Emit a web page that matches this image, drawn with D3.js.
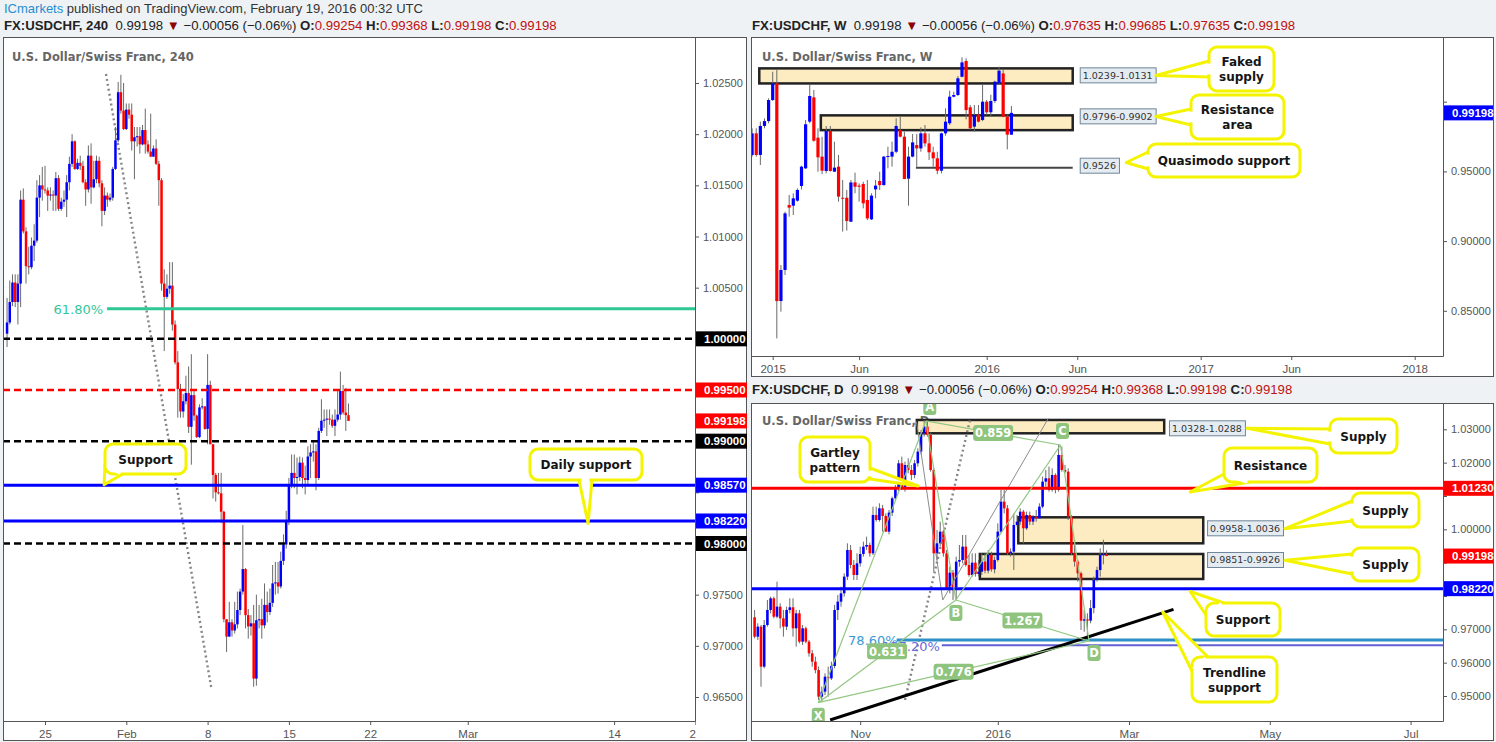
<!DOCTYPE html>
<html><head><meta charset="utf-8">
<script src="https://cdn.jsdelivr.net/npm/d3@7"></script>
<style>body{margin:0;background:#eef2f5;}svg{display:block}text{white-space:pre}</style>
</head><body><svg id="c" width="1496" height="742"></svg>
<script>
// ---------------- 4H data (bar index relative to Mon Jan 25 00:00, 6 bars per trading day) ----------------
const h4Start = -14;
const h4Open = [1.0005,1.0016,1.0036,1.0055,1.0036,1.0054,1.0136,1.0105,1.0071,1.0070,1.0091,1.0096,1.0138,1.0150,1.0146,1.0145,1.0140,1.0141,1.0140,1.0157,1.0127,1.0134,1.0136,1.0153,1.0171,1.0193,1.0166,1.0172,1.0169,1.0153,1.0146,1.0179,1.0148,1.0156,1.0174,1.0152,1.0125,1.0140,1.0136,1.0138,1.0166,1.0194,1.0241,1.0223,1.0205,1.0224,1.0219,1.0193,1.0197,1.0198,1.0190,1.0204,1.0190,1.0183,1.0178,1.0186,1.0171,1.0155,1.0054,1.0041,1.0049,1.0052,1.0014,0.9977,0.9951,0.9929,0.9939,0.9947,0.9914,0.9945,0.9925,0.9904,0.9933,0.9934,0.9912,0.9955,0.9897,0.9867,0.9850,0.9849,0.9831,0.9726,0.9709,0.9723,0.9715,0.9721,0.9735,0.9753,0.9775,0.9730,0.9719,0.9722,0.9668,0.9725,0.9726,0.9720,0.9740,0.9733,0.9742,0.9761,0.9762,0.9758,0.9783,0.9799,0.9821,0.9857,0.9869,0.9864,0.9865,0.9879,0.9864,0.9862,0.9885,0.9889,0.9890,0.9864,0.9910,0.9920,0.9921,0.9922,0.9921,0.9915,0.9921,0.9926,0.9949,0.9928,0.99254];
const h4High = [1.0040,1.0057,1.0063,1.0063,1.0063,1.0145,1.0147,1.0109,1.0090,1.0099,1.0112,1.0155,1.0160,1.0168,1.0169,1.0148,1.0148,1.0145,1.0163,1.0160,1.0138,1.0145,1.0160,1.0178,1.0200,1.0194,1.0176,1.0179,1.0174,1.0156,1.0189,1.0191,1.0174,1.0179,1.0178,1.0155,1.0148,1.0143,1.0142,1.0168,1.0207,1.0251,1.0258,1.0250,1.0230,1.0230,1.0230,1.0207,1.0207,1.0207,1.0209,1.0225,1.0194,1.0220,1.0189,1.0195,1.0174,1.0157,1.0068,1.0063,1.0075,1.0075,1.0018,0.9988,0.9956,0.9946,0.9964,0.9973,0.9985,0.9949,0.9926,0.9936,0.9942,0.9934,0.9985,0.9959,0.9897,0.9869,0.9869,0.9869,0.9832,0.9726,0.9743,0.9726,0.9743,0.9753,0.9756,0.9818,0.9776,0.9736,0.9730,0.9740,0.9750,0.9740,0.9746,0.9761,0.9753,0.9756,0.9779,0.9782,0.9782,0.9792,0.9809,0.9832,0.9864,0.9887,0.9887,0.9884,0.9885,0.9884,0.9876,0.9895,0.9897,0.9900,0.9897,0.9913,0.9941,0.9931,0.9931,0.9931,0.9926,0.9931,0.9949,0.9968,0.9955,0.9952,0.99368];
const h4Low = [0.9992,1.0014,1.0032,1.0031,1.0014,1.0031,1.0103,1.0054,1.0063,1.0068,1.0076,1.0094,1.0119,1.0135,1.0142,1.0125,1.0135,1.0125,1.0125,1.0125,1.0125,1.0129,1.0119,1.0145,1.0168,1.0165,1.0165,1.0165,1.0152,1.0130,1.0143,1.0132,1.0147,1.0152,1.0148,1.0110,1.0121,1.0129,1.0134,1.0135,1.0165,1.0192,1.0220,1.0204,1.0204,1.0215,1.0184,1.0156,1.0188,1.0181,1.0189,1.0181,1.0181,1.0178,1.0178,1.0170,1.0130,1.0047,0.9988,1.0039,1.0044,1.0008,0.9975,0.9923,0.9923,0.9923,0.9936,0.9908,0.9877,0.9920,0.9903,0.9903,0.9931,0.9911,0.9897,0.9897,0.9844,0.9841,0.9848,0.9820,0.9723,0.9694,0.9709,0.9709,0.9712,0.9717,0.9730,0.9750,0.9717,0.9707,0.9710,0.9660,0.9661,0.9717,0.9707,0.9717,0.9723,0.9730,0.9738,0.9750,0.9751,0.9756,0.9779,0.9795,0.9818,0.9854,0.9854,0.9848,0.9861,0.9854,0.9848,0.9858,0.9864,0.9880,0.9852,0.9862,0.9908,0.9913,0.9905,0.9916,0.9913,0.9905,0.9919,0.9921,0.9926,0.9910,0.99198];
const h4Close = [1.0016,1.0036,1.0055,1.0036,1.0054,1.0136,1.0105,1.0071,1.0070,1.0091,1.0096,1.0138,1.0150,1.0146,1.0145,1.0140,1.0141,1.0140,1.0157,1.0127,1.0134,1.0136,1.0153,1.0171,1.0193,1.0166,1.0172,1.0169,1.0153,1.0146,1.0179,1.0148,1.0156,1.0174,1.0152,1.0125,1.0140,1.0136,1.0138,1.0166,1.0194,1.0241,1.0223,1.0205,1.0224,1.0219,1.0193,1.0197,1.0198,1.0190,1.0204,1.0190,1.0183,1.0178,1.0186,1.0171,1.0155,1.0054,1.0041,1.0049,1.0052,1.0014,0.9977,0.9951,0.9929,0.9939,0.9947,0.9914,0.9945,0.9925,0.9904,0.9933,0.9934,0.9912,0.9955,0.9897,0.9867,0.9850,0.9849,0.9831,0.9726,0.9709,0.9723,0.9715,0.9721,0.9735,0.9753,0.9775,0.9730,0.9719,0.9722,0.9668,0.9725,0.9726,0.9720,0.9740,0.9733,0.9742,0.9761,0.9762,0.9758,0.9783,0.9799,0.9821,0.9857,0.9869,0.9864,0.9865,0.9879,0.9864,0.9862,0.9885,0.9889,0.9890,0.9864,0.9910,0.9920,0.9921,0.9922,0.9921,0.9915,0.9921,0.9926,0.9949,0.9928,0.99254,0.99198];
const h4XTicks = [0,30,60,90,120,156,210,240];
const h4XLabels = ['25','Feb','8','15','22','Mar','14','21'];
const h4YTicks = [1.025,1.020,1.015,1.010,1.005,1.000,0.995,0.990,0.985,0.980,0.975,0.970,0.965];
const h4Dashed = [1.0000,0.9950,0.9900,0.9800];
const h4DashedColors = ['#000','#f00','#000','#000'];
const h4Solid = [0.9857,0.9822];
const h4Tags = [1.0000,0.9950,0.99198,0.9900,0.9857,0.9822,0.9800];
const h4TagColors = ['#000','#f00','#f00','#000','#00f','#00f','#000'];
const h4Fib = [22.9,1.00294];        // start bar, price of 61.8%
const h4Diag = [[22.5,1.02588],[61.3,0.96598]];

// ---------------- Weekly data (week index relative to 5 Jan 2015) ----------------
const wkStart = -5;
const wkOpen = [0.9618,0.9773,0.9618,0.9826,0.9861,1.0012,1.0132,0.8570,0.8793,0.9259,0.9254,0.9290,0.9395,0.9522,0.9857,1.0031,0.9742,0.9606,0.9503,0.9790,0.9498,0.9534,0.9311,0.9311,0.9139,0.9421,0.9398,0.9410,0.9295,0.9156,0.9371,0.9431,0.9402,0.9606,0.9606,0.9641,0.9797,0.9749,0.9448,0.9606,0.9689,0.9665,0.9773,0.9701,0.9637,0.9594,0.9505,0.9773,0.9845,1.0036,1.0048,1.0179,1.0292,0.9960,0.9821,0.9909,0.9869,1.0000,0.9924,1.0005,1.0132,1.0203,0.9893,0.97635];
const wkHigh = [0.9809,0.9809,0.9857,0.9881,1.0024,1.0215,1.0227,0.8828,0.9211,0.9331,0.9343,0.9378,0.9540,0.9869,1.0120,1.0084,0.9809,0.9749,0.9826,0.9826,0.9713,0.9618,0.9438,0.9367,0.9438,0.9491,0.9414,0.9426,0.9438,0.9343,0.9438,0.9498,0.9610,0.9677,0.9713,0.9881,0.9893,0.9785,0.9677,0.9768,0.9768,0.9816,0.9833,0.9773,0.9677,0.9641,0.9778,0.9952,1.0079,1.0072,1.0184,1.0318,1.0311,0.9976,0.9976,0.9976,1.0120,1.0012,1.0050,1.0150,1.0251,1.0227,0.9905,0.99685];
const wkLow = [0.9606,0.9606,0.9546,0.9809,0.9845,1.0005,0.8302,0.8494,0.8757,0.9175,0.9187,0.9283,0.9371,0.9517,0.9845,0.9713,0.9498,0.9481,0.9486,0.9498,0.9498,0.9283,0.9068,0.9075,0.9139,0.9343,0.9283,0.9235,0.9151,0.9151,0.9307,0.9367,0.9398,0.9522,0.9534,0.9630,0.9744,0.9445,0.9254,0.9601,0.9534,0.9641,0.9677,0.9582,0.9534,0.9481,0.9486,0.9756,0.9833,1.0031,1.0041,1.0175,0.9873,0.9800,0.9785,0.9852,0.9860,0.9905,0.9893,0.9990,1.0127,0.9888,0.9658,0.97635];
const wkClose = [0.9773,0.9618,0.9826,0.9861,1.0012,1.0132,0.8570,0.8793,0.9199,0.9240,0.9307,0.9367,0.9534,0.9838,1.0041,0.9720,0.9601,0.9505,0.9790,0.9503,0.9527,0.9319,0.9307,0.9144,0.9421,0.9390,0.9390,0.9271,0.9163,0.9326,0.9398,0.9402,0.9606,0.9610,0.9641,0.9826,0.9749,0.9445,0.9606,0.9708,0.9665,0.9773,0.9701,0.9637,0.9594,0.9505,0.9773,0.9857,1.0036,1.0048,1.0168,1.0282,0.9940,0.9809,0.9905,0.9857,1.0000,0.9924,1.0005,1.0144,1.0223,0.9893,0.97635,0.99198];
const wkXTicks = [0,21,52,74,104,126,156];
const wkXLabels = ['2015','Jun','2016','Jun','2017','Jun','2018'];
const wkYTicks = [1.00,0.95,0.90,0.85];
const wkZoneTop = [1.0239,0.9902];
const wkZoneBot = [1.0131,0.9796];
const wkZoneFrom = [-3.26,11.7];
const wkZoneTo = [72.9,72.9];
const wkZoneText = ['1.0239-1.0131','0.9796-0.9902'];
const wkZoneTagPrice = [1.0189,0.9895];
const wkQM = [34.8,72.9,0.9526];

// ---------------- Daily data (trading-day index relative to Tue 1 Mar 2016) ----------------
const dStart = -117;
const dOpen = [0.9736,0.9678,0.9708,0.9588,0.9713,0.9758,0.9793,0.9738,0.9768,0.9733,0.9708,0.9758,0.9766,0.9703,0.9748,0.9663,0.9703,0.9663,0.9628,0.9603,0.9578,0.9498,0.9513,0.9558,0.9553,0.9590,0.9758,0.9783,0.9808,0.9858,0.9938,0.9893,0.9863,0.9898,0.9926,0.9948,0.9953,0.9928,1.0043,1.0028,1.0063,1.0040,0.9993,1.0050,1.0093,1.0123,1.0198,1.0123,1.0193,1.0178,1.0163,1.0198,1.0233,1.0288,1.0308,1.0283,1.0178,0.9928,0.9958,0.9993,0.9928,0.9823,0.9870,0.9826,0.9903,0.9908,0.9948,0.9893,0.9863,0.9900,0.9866,0.9873,0.9903,0.9876,0.9923,0.9880,0.9908,0.9993,1.0083,1.0063,0.9928,0.9933,1.0013,1.0023,1.0053,1.0003,1.0043,1.0023,1.0038,1.0033,1.0068,1.0143,1.0153,1.0118,1.0163,1.0118,1.0223,1.0178,1.0173,1.0038,0.9928,0.9903,0.9868,0.9726,0.9730,0.9726,0.97635,0.9848,0.9878,0.9923,0.99254];
const dHigh = [0.9758,0.9718,0.9713,0.9728,0.9788,0.9798,0.9798,0.9843,0.9778,0.9758,0.9768,0.9793,0.9793,0.9758,0.9758,0.9713,0.9708,0.9668,0.9638,0.9618,0.9588,0.9528,0.9568,0.9588,0.9603,0.9773,0.9803,0.9828,0.9868,0.9958,0.9953,0.9908,0.9928,0.9948,0.9963,0.9978,0.9960,1.0068,1.0068,1.0078,1.0073,1.0048,1.0058,1.0098,1.0133,1.0208,1.0218,1.0203,1.0213,1.0193,1.0208,1.0243,1.0298,1.0328,1.0325,1.0290,1.0183,0.9998,1.0023,0.9998,0.9938,0.9888,0.9878,0.9918,0.9953,0.9983,0.9983,0.9923,0.9928,0.9928,0.9908,0.9928,0.9928,0.9938,0.9933,0.9918,1.0018,1.0118,1.0118,1.0073,0.9943,1.0048,1.0043,1.0063,1.0058,1.0053,1.0053,1.0043,1.0058,1.0078,1.0158,1.0178,1.0188,1.0183,1.0168,1.0253,1.0248,1.0193,1.0183,1.0043,0.9968,0.9908,0.9873,0.9758,0.9748,0.9788,0.9858,0.9888,0.9943,0.99685,0.99368];
const dLow = [0.9673,0.9668,0.9528,0.9583,0.9708,0.9748,0.9733,0.9733,0.9703,0.9678,0.9698,0.9748,0.9678,0.9648,0.9658,0.9653,0.9658,0.9618,0.9588,0.9568,0.9488,0.9483,0.9503,0.9498,0.9548,0.9583,0.9728,0.9768,0.9798,0.9848,0.9883,0.9848,0.9848,0.9888,0.9918,0.9938,0.9918,0.9923,1.0023,1.0023,0.9993,0.9993,0.9985,1.0040,1.0085,1.0115,1.0118,1.0113,1.0168,1.0148,1.0153,1.0188,1.0225,1.0278,1.0278,1.0173,0.9873,0.9908,0.9948,0.9918,0.9818,0.9808,0.9788,0.9788,0.9888,0.9898,0.9888,0.9858,0.9858,0.9858,0.9858,0.9863,0.9868,0.9868,0.9873,0.9868,0.9903,0.9988,1.0048,0.9923,0.9918,0.9878,1.0008,1.0013,0.9958,0.9998,1.0013,1.0013,1.0023,1.0033,1.0063,1.0128,1.0113,1.0113,1.0108,1.0113,1.0173,1.0168,1.0028,0.9923,0.9888,0.9843,0.9698,0.9693,0.9663,0.9718,0.9748,0.9843,0.9858,0.9895,0.99198];
const dClose = [0.9678,0.9708,0.9588,0.9713,0.9758,0.9793,0.9738,0.9768,0.9733,0.9708,0.9758,0.9766,0.9703,0.9748,0.9663,0.9703,0.9663,0.9628,0.9603,0.9578,0.9498,0.9513,0.9558,0.9553,0.9590,0.9758,0.9783,0.9808,0.9858,0.9938,0.9893,0.9863,0.9898,0.9926,0.9948,0.9953,0.9928,1.0043,1.0028,1.0063,1.0040,0.9993,1.0050,1.0093,1.0123,1.0198,1.0123,1.0193,1.0178,1.0163,1.0198,1.0233,1.0288,1.0308,1.0283,1.0178,0.9928,0.9958,0.9993,0.9928,0.9823,0.9870,0.9826,0.9903,0.9908,0.9948,0.9893,0.9863,0.9900,0.9866,0.9873,0.9903,0.9876,0.9923,0.9880,0.9908,0.9993,1.0083,1.0063,0.9928,0.9933,1.0013,1.0023,1.0053,1.0003,1.0043,1.0023,1.0038,1.0033,1.0068,1.0143,1.0153,1.0118,1.0163,1.0118,1.0223,1.0178,1.0173,1.0038,0.9928,0.9903,0.9868,0.9726,0.9730,0.9726,0.97635,0.9848,0.9878,0.9923,0.99254,0.99198];
const dXTicks = [-84,-41,0,44,88];
const dXLabels = ['Nov','2016','Mar','May','Jul'];
const dYTicks = [1.03,1.02,1.01,1.00,0.99,0.98,0.97,0.96,0.95];
const dZoneTop = [1.0328,1.0036,0.9926];
const dZoneBot = [1.0288,0.9958,0.9851];
const dZoneFrom = [-66.3,-34.6,-46.6];
const dZoneTo = [11.0,23.2,23.2];
const dZoneText = ['1.0328-1.0288','0.9958-1.0036','0.9851-0.9926'];
const dZoneTagAt = [12.5,24.4,24.4];
const dZoneTagPrice = [1.0303,1.0003,0.9908];
const dTags = [1.0123,0.99198,0.9822];
const dTagColors = ['#f00','#f00','#00f'];
const gartleyNames = ['X','A','B','C','D'];
const gartleyDay = [-97.1,-63.5,-54.1,-21.4,-12.5];
const gartleyPrice = [0.9480,1.0325,0.9788,1.0253,0.9665];
const gartleyRatios = [['0.631',0,2],['0.859',1,3],['1.267',2,4],['0.776',0,4]];
const dTrend = [[-93.4,0.9428],[13.9,0.9760]];
const dFib786 = [-72.6,0.9668];
const dFib1272 = [-58.5,0.9652];
const dGray = [[[-66.4,1.0323],[-58.2,0.9788]],[[-58.2,0.9788],[-25.2,1.0333]]];
const dDotted = [[-70,0.9488],[-49.7,1.0328]];

// ---------------- drawing ----------------
const svg = d3.select('#c');
const NARROW = '"Liberation Sans Narrow","Arial Narrow","Liberation Sans",sans-serif';
const SANS = '"Liberation Sans",Arial,sans-serif';
const DV = '"DejaVu Sans",Verdana,sans-serif';
const YEL = '#f4f400';
const f5 = d3.format('.5f');

svg.append('rect').attr('width',1496).attr('height',742).attr('fill','#eef2f5');

// header line
const hd = svg.append('text').attr('x',4).attr('y',13).attr('font-family',NARROW).attr('font-size',13).attr('fill','#333');
hd.append('tspan').attr('fill','#1f8fd0').text('ICmarkets');
hd.append('tspan').text(' published on TradingView.com, February 19, 2016 00:32 UTC');

function header(x,y,tf,o,h,l,c){
  const t = svg.append('text').attr('x',x).attr('y',y).attr('font-family',NARROW).attr('font-size',13.2).attr('fill','#222');
  t.append('tspan').attr('font-weight','bold').text('FX:USDCHF, '+tf);
  t.append('tspan').text('  '+f5(c)+' ');
  t.append('tspan').attr('fill','#8b0000').text('▼');
  t.append('tspan').text(' −0.00056 (−0.06%) ');
  [['O:',o],['H:',h],['L:',l],['C:',c]].forEach((p,i)=>{
    t.append('tspan').attr('font-weight','bold').text((i?' ':'')+p[0]);
    t.append('tspan').attr('fill','#c01010').text(f5(p[1]));
  });
}
const nH = h4Close.length-1, nD = dClose.length-1, nW = wkClose.length-1;
header(4,30,'240',h4Open[nH],h4High[nH],h4Low[nH],h4Close[nH]);
header(752,30,'W',wkOpen[nW],wkHigh[nW],wkLow[nW],wkClose[nW]);
header(752,394,'D',dOpen[nD],dHigh[nD],dLow[nD],dClose[nD]);

function panel(id,bx0,by0,bx1,by1,px1,py1){
  svg.append('rect').attr('x',bx0+0.5).attr('y',by0+0.5).attr('width',bx1-bx0).attr('height',by1-by0).attr('fill','#fff').attr('stroke','#555');
  svg.append('clipPath').attr('id',id).append('rect').attr('x',bx0+1).attr('y',by0+1).attr('width',px1-bx0-1).attr('height',py1-by0-1);
  return svg.append('g');
}
function candles(g,O,Hh,L,C,start,xs,ys,bw){
  const idx = d3.range(O.length);
  g.append('g').selectAll('line').data(idx).join('line')
    .attr('x1',i=>xs(start+i)).attr('x2',i=>xs(start+i))
    .attr('y1',i=>ys(Hh[i])).attr('y2',i=>ys(L[i]))
    .attr('stroke','#6a6a6a').attr('stroke-width',1);
  g.append('g').selectAll('rect').data(idx).join('rect')
    .attr('x',i=>xs(start+i)-bw/2).attr('width',bw)
    .attr('y',i=>ys(Math.max(O[i],C[i])))
    .attr('height',i=>Math.max(1,Math.abs(ys(O[i])-ys(C[i]))))
    .attr('fill',i=>C[i]>=O[i]?'#0000ff':'#ff0000');
}
function yAxis(x,ys,ticks,tags){
  const g = svg.append('g').attr('transform',`translate(${x},0)`)
    .call(d3.axisRight(ys).tickValues(ticks).tickFormat(f5).tickSize(4).tickPadding(4));
  g.select('.domain').remove();
  g.selectAll('line').attr('stroke','#555');
  g.selectAll('text').attr('font-family',SANS).attr('font-size',11).attr('fill','#555');
  g.selectAll('.tick').filter(d=>tags.some(t=>Math.abs(ys(t)-ys(d))<14)).select('text').remove();
}
function xAxis(y,xs,ticks,labels,clipId){
  const g = svg.append('g').attr('transform',`translate(0,${y})`).attr('clip-path',clipId?`url(#${clipId})`:null)
    .call(d3.axisBottom(xs).tickValues(ticks).tickFormat((d,i)=>labels[i]).tickSize(4).tickPadding(5));
  g.select('.domain').remove();
  g.selectAll('line').attr('stroke','#555');
  g.selectAll('text').attr('font-family',SANS).attr('font-size',11.5).attr('fill','#555');
}
function axisFrame(px0,py0,px1,py1){
  svg.append('line').attr('x1',px1+0.5).attr('x2',px1+0.5).attr('y1',py0).attr('y2',py1+0.5).attr('stroke','#555');
  svg.append('line').attr('x1',px0).attr('x2',px1+0.5).attr('y1',py1+0.5).attr('y2',py1+0.5).attr('stroke','#555');
}
function tag(x,w,ys,v,bg){
  svg.append('rect').attr('x',x).attr('y',ys(v)-7.5).attr('width',w).attr('height',15).attr('fill',bg);
  svg.append('text').attr('x',x+8).attr('y',ys(v)+4).attr('font-family',SANS).attr('font-weight','bold').attr('font-size',11.5).attr('fill','#fff').text(f5(v));
}
function title(g,x,y,t){
  g.append('text').attr('x',x).attr('y',y).attr('font-family',DV).attr('font-weight','bold').attr('font-size',11.5).attr('fill','#666').text(t);
}
function priceTag(g,x,y,t){
  const tx = g.append('text').attr('x',x+3).attr('y',y+3.5).attr('font-family',DV).attr('font-size',9.5).attr('fill','#333').text(t);
  const w = tx.node().getComputedTextLength();
  g.insert('rect','text:last-child').attr('x',x+0.5).attr('y',y-7.5).attr('width',w+6).attr('height',15).attr('fill','#e4ecf2').attr('stroke','#6f8599');
  tx.raise();
}
function callout(g,bx,by,bw,bh,tip,base,lines){
  const b1=[bx+base[0][0],by+base[0][1]], b2=[bx+base[1][0],by+base[1][1]];
  g.append('path').attr('d',`M${b1[0]},${b1[1]}L${tip[0]},${tip[1]}L${b2[0]},${b2[1]}Z`)
    .attr('fill','#fff').attr('stroke',YEL).attr('stroke-width',3).attr('stroke-linejoin','round');
  g.append('rect').attr('x',bx).attr('y',by).attr('width',bw).attr('height',bh).attr('rx',8)
    .attr('fill','#fff').attr('stroke',YEL).attr('stroke-width',3);
  const dx=b2[0]-b1[0], dy=b2[1]-b1[1], L=Math.hypot(dx,dy);
  g.append('line').attr('x1',b1[0]+dx/L*2.6).attr('y1',b1[1]+dy/L*2.6).attr('x2',b2[0]-dx/L*2.6).attr('y2',b2[1]-dy/L*2.6)
    .attr('stroke','#fff').attr('stroke-width',4.5);
  const t = g.append('text').attr('font-family',DV).attr('font-weight','bold').attr('font-size',12).attr('fill','#151515').attr('text-anchor','middle');
  const lh = 15, y0 = by + bh/2 - (lines.length-1)*lh/2 + 4.5;
  lines.forEach((s,i)=>t.append('tspan').attr('x',bx+bw/2).attr('y',y0+i*lh).text(s));
}

// ===== Panel 1 : 4H =====
const xH = d3.scaleLinear().domain([0,120]).range([45,45+120*2.71]);
const yH = d3.scaleLinear().domain([0.965,1.025]).range([697,83]);
const g1 = panel('cp1',3,37,746,740,695,721);
const p1 = g1.append('g').attr('clip-path','url(#cp1)');
title(p1,12,61,'U.S. Dollar/Swiss Franc, 240');
p1.append('line').attr('x1',xH(h4Diag[0][0])).attr('y1',yH(h4Diag[0][1])).attr('x2',xH(h4Diag[1][0])).attr('y2',yH(h4Diag[1][1]))
  .attr('stroke','#858585').attr('stroke-width',2.4).attr('stroke-dasharray','2,3');
candles(p1,h4Open,h4High,h4Low,h4Close,h4Start,xH,yH,2.5);
p1.append('line').attr('x1',xH(h4Fib[0])).attr('x2',695).attr('y1',yH(h4Fib[1])).attr('y2',yH(h4Fib[1])).attr('stroke','#2ec795').attr('stroke-width',3);
p1.append('text').attr('x',xH(h4Fib[0])-4).attr('y',yH(h4Fib[1])+5).attr('text-anchor','end').attr('font-family',DV).attr('font-size',13).attr('fill','#33c79a').text('61.80%');
h4Dashed.forEach((v,i)=>p1.append('line').attr('x1',3).attr('x2',695).attr('y1',yH(v)).attr('y2',yH(v))
  .attr('stroke',h4DashedColors[i]).attr('stroke-width',2.5).attr('stroke-dasharray','7,4'));
h4Solid.forEach(v=>p1.append('line').attr('x1',3).attr('x2',695).attr('y1',yH(v)).attr('y2',yH(v)).attr('stroke','#0000ff').attr('stroke-width',3));
callout(p1,105,444,81,30,[xH(21.8),yH(0.98575)],[[0,20],[18,30]],['Support']);
callout(p1,530,449,112,31,[xH(200.4),yH(0.98196)],[[49,31],[62,31]],['Daily support']);
axisFrame(3,37,695,721);
yAxis(695,yH,h4YTicks,h4Tags);
svg.append('clipPath').attr('id','cp1x').append('rect').attr('x',3).attr('y',-20).attr('width',693).attr('height',60);
xAxis(721,xH,h4XTicks,h4XLabels,'cp1x');
h4Tags.forEach((v,i)=>tag(696,51,yH,v,h4TagColors[i]));

// ===== Panel 2 : Weekly =====
const xW = d3.scaleLinear().domain([0,52]).range([772.7,986.7]);
const yW = d3.scaleLinear().domain([0.85,1.0]).range([310.8,101.7]);
const g2 = panel('cp2',751,37,1493,376,1443,356);
const p2 = g2.append('g').attr('clip-path','url(#cp2)');
title(p2,762,61,'U.S. Dollar/Swiss Franc, W');
wkZoneTop.forEach((t,i)=>p2.append('rect').attr('x',xW(wkZoneFrom[i])).attr('y',yW(t)).attr('width',xW(wkZoneTo[i])-xW(wkZoneFrom[i])).attr('height',yW(wkZoneBot[i])-yW(t))
  .attr('fill','#fdecc2').attr('stroke','#222').attr('stroke-width',2.5));
p2.append('line').attr('x1',xW(wkQM[0])).attr('x2',xW(wkQM[1])).attr('y1',yW(wkQM[2])).attr('y2',yW(wkQM[2])).attr('stroke','#444').attr('stroke-width',2);
candles(p2,wkOpen,wkHigh,wkLow,wkClose,wkStart,xW,yW,3.2);
wkZoneText.forEach((t,i)=>priceTag(p2,xW(wkZoneTo[i])+7,yW(wkZoneTagPrice[i]),t));
priceTag(p2,xW(wkQM[1])+7,yW(wkQM[2]+0.0015),'0.9526');
callout(p2,1209,47,65,44,[xW(93.1),yW(1.0188)],[[0,14],[0,30]],['Faked','supply']);
callout(p2,1191,95,93,44,[xW(93.1),yW(0.98938)],[[0,14],[0,30]],['Resistance','area']);
callout(p2,1148,144,152,33,[xW(85.9),yW(0.95638)],[[0,8],[0,25]],['Quasimodo support']);
axisFrame(752,37,1443,356);
yAxis(1443,yW,wkYTicks,[wkClose[nW]]);
xAxis(356,xW,wkXTicks,wkXLabels,null);
tag(1444,49,yW,wkClose[nW],'#0000ff');

// ===== Panel 3 : Daily =====
const xD = d3.scaleLinear().domain([-84,0]).range([860.2,1129]);
const yD = d3.scaleLinear().domain([0.95,1.03]).range([696,429.3]);
const g3 = panel('cp3',751,403,1493,740,1443,721);
const p3 = g3.append('g').attr('clip-path','url(#cp3)');
title(p3,762,425,'U.S. Dollar/Swiss Franc, D');
dZoneTop.forEach((t,i)=>p3.append('rect').attr('x',xD(dZoneFrom[i])).attr('y',yD(t)).attr('width',xD(dZoneTo[i])-xD(dZoneFrom[i])).attr('height',yD(dZoneBot[i])-yD(t))
  .attr('fill','#fdecc2').attr('stroke','#222').attr('stroke-width',2.5));
candles(p3,dOpen,dHigh,dLow,dClose,dStart,xD,yD,2.6);
dGray.forEach(s=>p3.append('line').attr('x1',xD(s[0][0])).attr('y1',yD(s[0][1])).attr('x2',xD(s[1][0])).attr('y2',yD(s[1][1])).attr('stroke','#8c8c8c').attr('stroke-width',1));
p3.append('line').attr('x1',xD(dDotted[0][0])).attr('y1',yD(dDotted[0][1])).attr('x2',xD(dDotted[1][0])).attr('y2',yD(dDotted[1][1]))
  .attr('stroke','#858585').attr('stroke-width',2.4).attr('stroke-dasharray','2,3');
p3.append('line').attr('x1',752).attr('x2',1443).attr('y1',yD(dTags[0])).attr('y2',yD(dTags[0])).attr('stroke','#ff0000').attr('stroke-width',3);
p3.append('line').attr('x1',752).attr('x2',1443).attr('y1',yD(dTags[2])).attr('y2',yD(dTags[2])).attr('stroke','#0000ff').attr('stroke-width',3);
p3.append('line').attr('x1',xD(dFib786[0])).attr('x2',1443).attr('y1',yD(dFib786[1])).attr('y2',yD(dFib786[1])).attr('stroke','#2f8fc7').attr('stroke-width',3);
p3.append('line').attr('x1',xD(dFib1272[0])).attr('x2',1443).attr('y1',yD(dFib1272[1])).attr('y2',yD(dFib1272[1])).attr('stroke','#6060d4').attr('stroke-width',2);
p3.append('text').attr('x',xD(dFib786[0])+1).attr('y',yD(dFib786[1])+5).attr('text-anchor','end').attr('font-family',DV).attr('font-size',13).attr('fill','#3a9ad6').text('78.60%');
p3.append('text').attr('x',xD(dFib1272[0])-2).attr('y',yD(dFib1272[1])+6).attr('text-anchor','end').attr('font-family',DV).attr('font-size',13).attr('fill','#6a6ad8').text('127.20%');
p3.append('line').attr('x1',xD(dTrend[0][0])).attr('y1',yD(dTrend[0][1])).attr('x2',xD(dTrend[1][0])).attr('y2',yD(dTrend[1][1])).attr('stroke','#000').attr('stroke-width',3);
const gp = gartleyDay.map((d,i)=>[xD(d),yD(gartleyPrice[i])]);
const gLines = [[0,1],[1,2],[2,3],[3,4],[0,2],[1,3],[2,4],[0,4]];
gLines.forEach(s=>p3.append('line').attr('x1',gp[s[0]][0]).attr('y1',gp[s[0]][1]).attr('x2',gp[s[1]][0]).attr('y2',gp[s[1]][1]).attr('stroke','#93c883').attr('stroke-width',1.2));
function greenLabel(x,y,t,w){
  p3.append('rect').attr('x',x-w/2).attr('y',y-8).attr('width',w).attr('height',16).attr('rx',3).attr('fill','#8ec47d');
  p3.append('text').attr('x',x).attr('y',y+4.5).attr('text-anchor','middle').attr('font-family',DV).attr('font-weight','bold').attr('font-size',11.5).attr('fill','#fff').text(t);
}
gartleyRatios.forEach(r=>greenLabel((gp[r[1]][0]+gp[r[2]][0])/2,(gp[r[1]][1]+gp[r[2]][1])/2,r[0],40));
const lblOff = [[0,13],[4,-14],[0,13],[2,-14],[5,12]];
gartleyNames.forEach((n,i)=>greenLabel(gp[i][0]+lblOff[i][0],gp[i][1]+lblOff[i][1],n,13));
dZoneText.forEach((t,i)=>priceTag(p3,xD(dZoneTagAt[i]),yD(dZoneTagPrice[i]),t));
callout(p3,800,437,70,45,[xD(-65.9),yD(1.01299)],[[70,31],[70,42]],['Gartley','pattern']);
callout(p3,1330,419,67,34,[xD(36.9),yD(1.0303)],[[0,10],[0,25]],['Supply']);
callout(p3,1224,448,93,34,[xD(19.1),yD(1.0112)],[[0,26],[26,34]],['Resistance']);
callout(p3,1352,493,67,34,[xD(48.75),yD(1.0002)],[[0,8],[0,28]],['Supply']);
callout(p3,1352,548,67,33,[xD(48.75),yD(0.9907)],[[0,6],[0,26]],['Supply']);
callout(p3,1206,603,74,33,[xD(19.1),yD(0.98134)],[[0,12],[18,0]],['Support']);
callout(p3,1192,657,85,45,[xD(10.5),yD(0.97528)],[[0,14],[16,0]],['Trendline','support']);
axisFrame(752,403,1443,721);
yAxis(1443,yD,dYTicks,dTags);
xAxis(721,xD,dXTicks,dXLabels,null);
dTags.forEach((v,i)=>tag(1444,49,yD,v,dTagColors[i]));
</script></body></html>
